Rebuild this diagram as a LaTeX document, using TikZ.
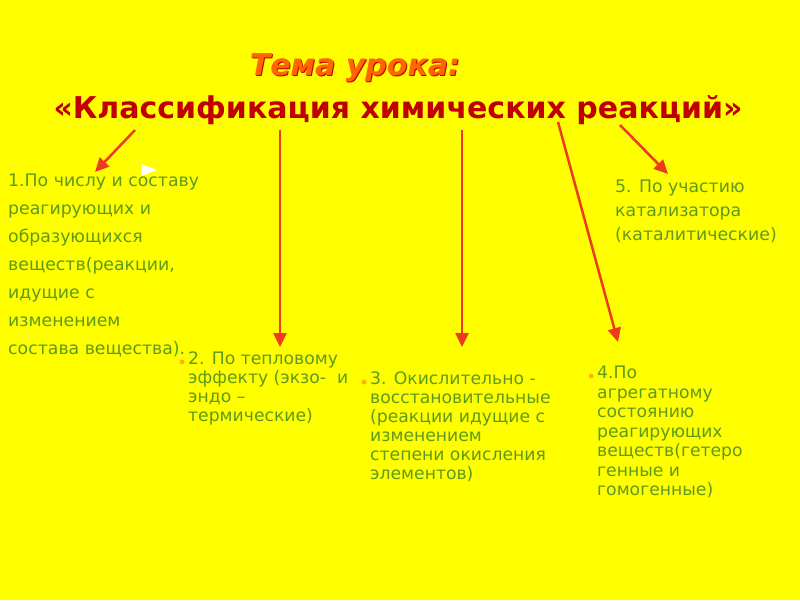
\documentclass[tikz,border=0pt]{standalone}
\usepackage{fontspec}
\setmainfont{DejaVu Sans}
\usetikzlibrary{arrows.meta}
\definecolor{bg}{HTML}{FFFF00}
\definecolor{txt}{HTML}{5E9A1A}
\definecolor{ttl}{HTML}{C00000}
\definecolor{arr}{HTML}{F03A1E}
\tikzset{x=1pt,y=-1pt,
 ar/.style={arr,line width=2.5pt,-{Triangle[length=14pt,width=13pt]}},
 body/.style={txt,anchor=north west,align=left,inner sep=0pt,font=\fontsize{17.3}{28}\selectfont},
 bodyb/.style={txt,anchor=north west,align=left,inner sep=0pt,font=\fontsize{17.2}{19}\selectfont}}
\begin{document}
\begin{tikzpicture}
\fill[bg] (0,0) rectangle (800,600);
\useasboundingbox (0,0) rectangle (800,600);
\node[ttl,font=\fontsize{30}{30}\bfseries\itshape\selectfont,inner sep=0pt] (t0) at (356,69) {Тема урока:};
\node[orange!80!red,font=\fontsize{30}{30}\bfseries\itshape\selectfont,inner sep=0pt] (t1) at (355,68) {Тема урока:};
\node[ttl,font=\fontsize{30}{30}\bfseries\selectfont,inner sep=0pt] (t2) at (398,110) {«Классификация химических реакций»};
\coordinate (s1) at (135,130); \coordinate (e1) at (95,172);
\coordinate (s2) at (280,130); \coordinate (e2) at (280,347);
\coordinate (s3) at (462,130); \coordinate (e3) at (462,347);
\coordinate (s4) at (558,122); \coordinate (e4) at (618,342);
\coordinate (s5) at (620,125); \coordinate (e5) at (668,174);
\foreach \i in {1,...,5} \draw[ar] (s\i) -- (e\i);
\fill[white] (141,164) -- (157,170) -- (141,176) -- cycle;
\node[body] (n1) at (8,174) {1.По числу и составу\\реагирующих и\\образующихся\\веществ(реакции,\\идущие с\\изменением\\состава вещества).};
\node[body,font=\fontsize{17.3}{24}\selectfont] (n5) at (615,180) {5. По участию\\катализатора\\(каталитические)};
\node[bodyb] (n2) at (188,352) {2. По тепловому\\эффекту (экзо-\ \ и\\эндо –\\термические)};
\node[bodyb] (n3) at (370,372) {3. Окислительно -\\восстановительные\\(реакции идущие с\\изменением\\степени окисления\\элементов)};
\node[bodyb,font=\fontsize{17.2}{19.5}\selectfont] (n4) at (597,366) {4.По\\агрегатному\\состоянию\\реагирующих\\веществ(гетеро\\генные и\\гомогенные)};
\foreach \p in {(182,362),(364,382),(591,376)} \fill[orange!60!yellow] \p circle (2.5);
\end{tikzpicture}
\end{document}
